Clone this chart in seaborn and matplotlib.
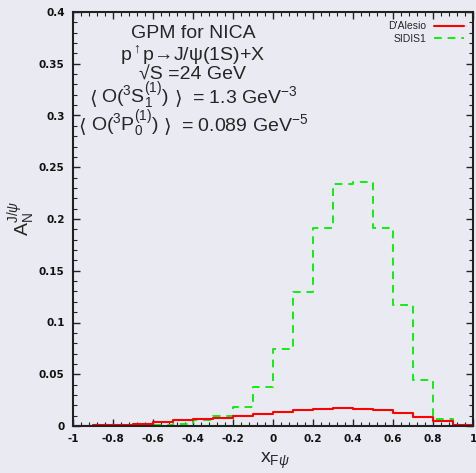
import numpy as np
import pandas as pd
import matplotlib
matplotlib.use("Agg")
import matplotlib.pyplot as plt
from matplotlib.ticker import AutoMinorLocator
from matplotlib.lines import Line2D
import seaborn as sns

# x_F bins of width 0.1 from -1 to 1
bin_edges = np.round(np.arange(-1.0, 1.0001, 0.1), 2)
bin_centers = np.round((bin_edges[:-1] + bin_edges[1:]) / 2, 3)

# A_N per bin for the two Sivers-function parametrisations
dalesio = [0.0003, 0.0008, 0.0012, 0.0022, 0.0042, 0.0055, 0.0065, 0.0080, 0.0094, 0.0113,
           0.0132, 0.0152, 0.0164, 0.0171, 0.0164, 0.0155, 0.0126, 0.0087, 0.0048, 0.0012]
sidis1 = [0.0002, 0.0005, 0.0008, 0.0010, 0.0013, 0.0020, 0.0055, 0.0092, 0.0186, 0.0374,
          0.0741, 0.1290, 0.1910, 0.2337, 0.2357, 0.1915, 0.1167, 0.0448, 0.0066, 0.0008]

x_ticks = [-1, -0.8, -0.6, -0.4, -0.2, 0, 0.2, 0.4, 0.6, 0.8, 1]
y_ticks = [0, 0.05, 0.1, 0.15, 0.2, 0.25, 0.3, 0.35, 0.4]

bg = "#EAEAF2"
sns.set_theme(style="dark", rc={"axes.facecolor": bg, "figure.facecolor": bg})
plt.rcParams["font.family"] = ["Liberation Sans", "DejaVu Sans"]
plt.rcParams["mathtext.fontset"] = "custom"
plt.rcParams["mathtext.rm"] = "Liberation Sans"
plt.rcParams["mathtext.it"] = "Liberation Sans:italic"
plt.rcParams["mathtext.bf"] = "Liberation Sans:bold"

df = pd.DataFrame({"xF": np.concatenate([bin_centers, bin_centers]),
                   "AN": dalesio + sidis1,
                   "model": ["D'Alesio"] * 20 + ["SIDIS1"] * 20})

W, H = 477, 473
fig = plt.figure(figsize=(W / 100, H / 100), dpi=100)
ax = fig.add_axes([73 / W, 1 - 426 / H, 400 / W, 414 / H])

red = "#ff0000"
green = "#11ee11"
nbins = len(bin_centers)
sns.histplot(data=df[df.model == "SIDIS1"], x="xF", weights="AN", bins=nbins,
             binrange=(bin_edges[0], bin_edges[-1]),
             element="step", fill=False, color=green, linestyle=(0, (4, 3)),
             linewidth=1.4, ax=ax)
sns.histplot(data=df[df.model == "D'Alesio"], x="xF", weights="AN", bins=nbins,
             binrange=(bin_edges[0], bin_edges[-1]),
             element="step", fill=False, color=red, linewidth=1.5, ax=ax)

ax.set_xlim(-1, 1)
ax.set_ylim(0, 0.4)
ax.set_xticks(x_ticks)
ax.set_yticks(y_ticks)
ax.set_xticklabels([f"{t:g}" for t in x_ticks])
ax.set_yticklabels([f"{t:g}" for t in y_ticks])
ax.xaxis.set_minor_locator(AutoMinorLocator(5))
ax.yaxis.set_minor_locator(AutoMinorLocator(5))
ax.tick_params(which="both", direction="in", top=True, right=True, bottom=True, left=True,
               color="#222222")
ax.tick_params(which="major", length=5, width=1.0, pad=6)
ax.tick_params(which="minor", length=3, width=0.8)
for lab in ax.get_xticklabels() + ax.get_yticklabels():
    lab.set_family("DejaVu Sans")
    lab.set_fontweight("bold")
    lab.set_fontsize(7.5)
    lab.set_color("#111111")
for sp in ax.spines.values():
    sp.set_visible(True)
    sp.set_color("#222222")
    sp.set_linewidth(1.5)
ax.grid(False)

ax.set_xlabel("")
ax.set_ylabel("")
fig.text(275 / W, 1 - 461 / H, r"x$_{\mathrm{F}\psi}$", fontsize=14,
         ha="center", va="center")
fig.text(22 / W, 1 - 218 / H, r"A$_{\mathrm{N}}^{\mathrm{J}/\psi}$", fontsize=14,
         ha="center", va="center", rotation=90)

# Physics annotation: simple lines drawn centred
simple_lines = [
    ("GPM for NICA", 34),
    (r"p$^{\uparrow}$p→J/ψ(1S)+X", 55),
    (r"√S =24 GeV", 75),
]
for txt, ypix in simple_lines:
    fig.text(193 / W, 1 - ypix / H, txt, fontsize=14, ha="center", va="center")

# Matrix-element lines: angle brackets as plain text pieces, the rest as mathtext
pieced_lines = [
    (["⟨", r"O($^3$S$_1^{(1)}$)", "⟩", r"= 1.3 GeV$^{-3}$"], [5, 5, 10], 103),
    (["⟨", r"O($^3$P$_0^{(1)}$)", "⟩", r"= 0.089 GeV$^{-5}$"], [5, 5, 10], 131),
]
fig.canvas.draw()
renderer = fig.canvas.get_renderer()
for pieces, gaps, base in pieced_lines:
    texts = [fig.text(0, 1 - base / H, p, fontsize=14, ha="left", va="baseline")
             for p in pieces]
    widths = [t.get_window_extent(renderer).width for t in texts]
    total = sum(widths) + sum(gaps)
    x = 193 - total / 2
    for i, t in enumerate(texts):
        t.set_x(x / W)
        x += widths[i] + (gaps[i] if i < len(gaps) else 0)

handles = [Line2D([], [], color=red, lw=1.5),
           Line2D([], [], color=green, lw=1.4, ls=(0, (4, 3)))]
leg = ax.legend(handles, ["D'Alesio", "SIDIS1"], loc="upper right", markerfirst=False,
                frameon=False, fontsize=7.5, handlelength=2.8, handletextpad=0.8,
                labelspacing=0.25, borderaxespad=0.5)

fig.savefig("out.png", dpi=100, facecolor=bg)
